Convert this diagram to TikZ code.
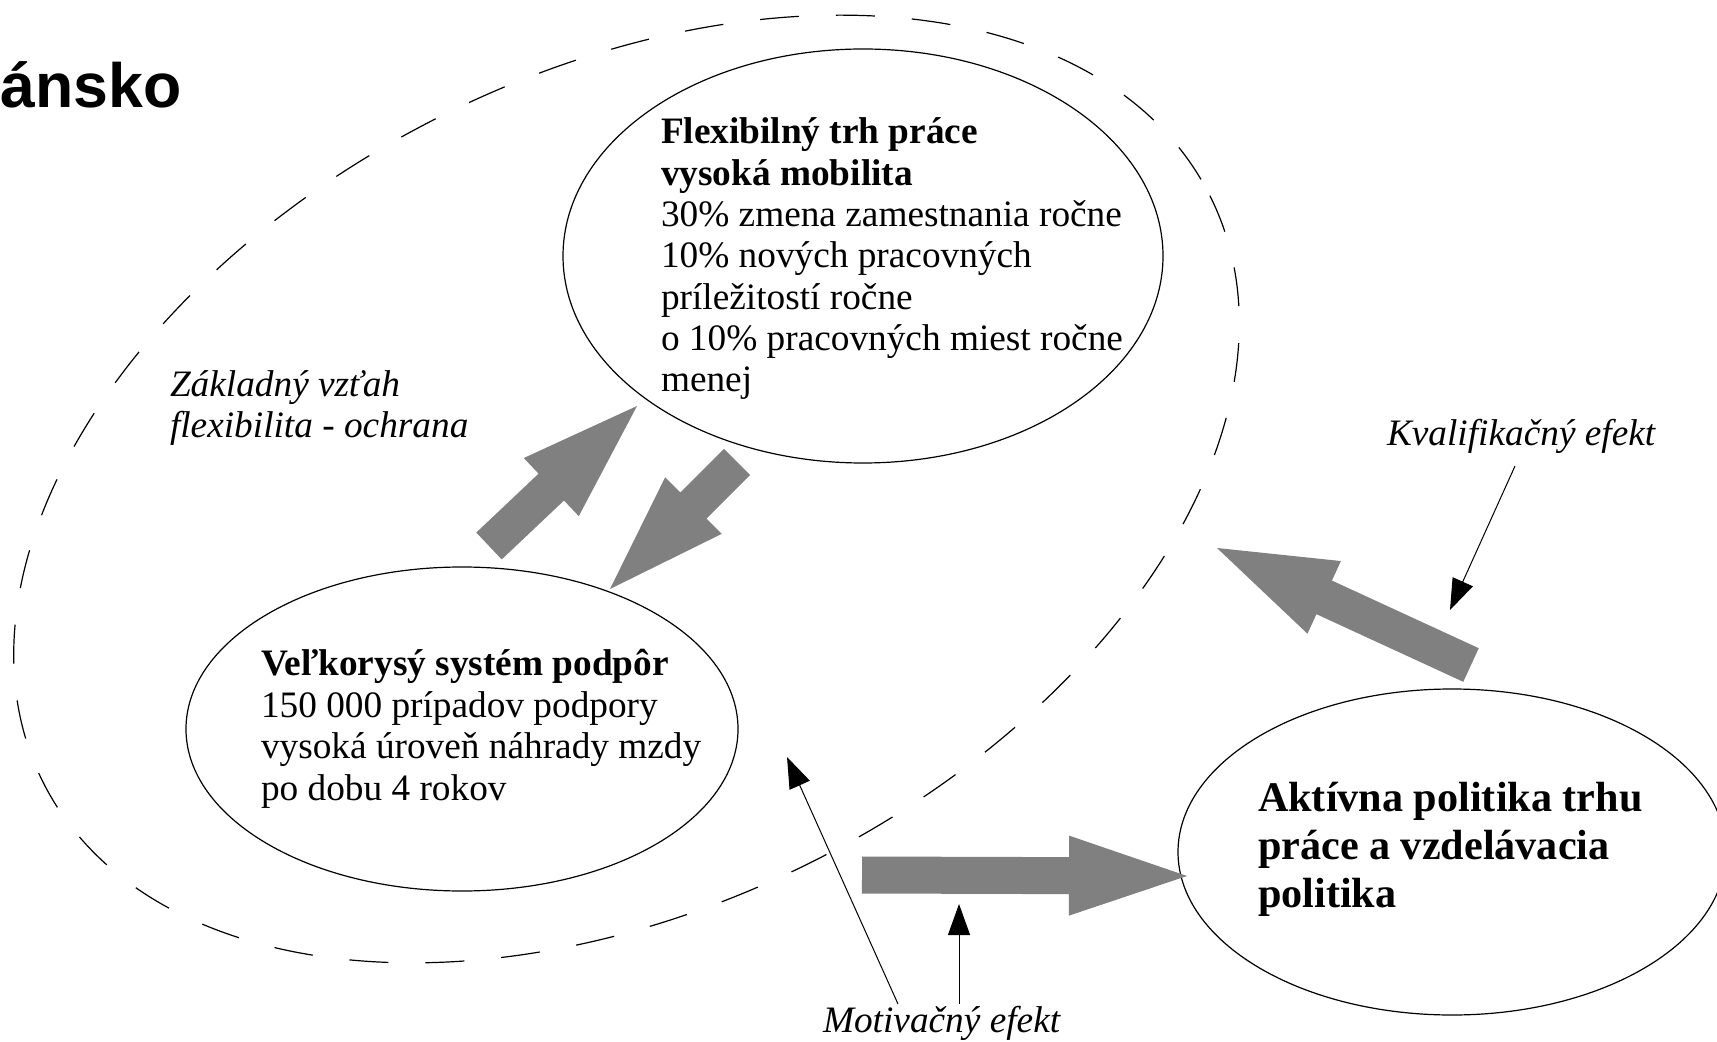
\documentclass[tikz,border=0pt]{standalone}
\usepackage{fontspec}
\setmainfont{Liberation Serif}
\newfontfamily\titlefont{Liberation Sans}
\usetikzlibrary{shapes.geometric,arrows.meta,calc}
\definecolor{arrowgray}{RGB}{128,128,128}
% block arrow: #1 tail coordinate, #2 tip coordinate
\newcommand{\blockarr}[2]{%
  \coordinate (bkN) at ($(#2)!59pt!(#1)$);
  \fill[arrowgray] ($(#1)!9.25pt!90:(#2)$) -- ($(bkN)!9.25pt!90:(#2)$) -- ($(bkN)!20pt!90:(#2)$) -- (#2)
    -- ($(bkN)!20pt!-90:(#2)$) -- ($(bkN)!9.25pt!-90:(#2)$) -- ($(#1)!9.25pt!-90:(#2)$) -- cycle;}
\begin{document}
\begin{tikzpicture}[x=0.5pt,y=-0.5pt,
  oval/.style={draw=black, line width=0.6pt, ellipse, inner sep=0pt, outer sep=0pt},
  txt/.style={inner sep=0pt, outer sep=0pt, align=left, anchor=north west},
  lbl/.style={inner sep=0pt, outer sep=0pt, anchor=base west, font=\fontsize{18.65pt}{20.5pt}\selectfont\itshape},
  thinarrow/.style={draw=black, line width=0.5pt, -{Triangle[length=15.5pt,width=11pt]}},
  outline/.style={line width=0.6pt, dash pattern=on 19.5pt off 18.5pt}
]
\fill[white] (0,0) rectangle (1717,1042);
\useasboundingbox (0,0) rectangle (1717,1042);

% title fragment
\node[inner sep=0pt, anchor=base west, font=\titlefont\bfseries\fontsize{31.3pt}{36pt}\selectfont] (title) at (0,108) {ánsko};

% big dashed ellipse
\draw[outline, rotate around={26.7:(626.5,489)}] (626.5,489) ellipse [x radius=653, y radius=416.5];

% ellipses
\node[oval, minimum width=300pt, minimum height=207pt] (flex) at (863,256) {};
\node[oval, minimum width=276pt, minimum height=162pt] (podp) at (462,729) {};
\node[oval, minimum width=274pt, minimum height=163pt] (akt) at (1452,852) {};

% texts
\node[txt, font=\fontsize{18.65pt}{20.65pt}\selectfont] (flextxt) at (661,116)
  {\rule{0pt}{0.75em}\textbf{Flexibilný trh práce}\\ \textbf{vysoká mobilita}\\ 30\% zmena zamestnania ročne\\ 10\% nových pracovných\\ príležitostí ročne\\ o 10\% pracovných miest ročne\\ menej};
\node[txt, font=\fontsize{18.65pt}{20.75pt}\selectfont] (podptxt) at (261,648)
  {\rule{0pt}{0.75em}\textbf{Veľkorysý systém podpôr}\\ 150 000 prípadov podpory\\ vysoká úroveň náhrady mzdy\\ po dobu 4 rokov};
\node[txt, font=\fontsize{21.1pt}{24.15pt}\selectfont\bfseries] (akttxt) at (1258,779.4)
  {\rule{0pt}{0.75em}Aktívna politika trhu\\ práce a vzdelávacia\\ politika};
\node[txt, font=\fontsize{18.65pt}{20.5pt}\selectfont\itshape] (zakl) at (170,369)
  {\rule{0pt}{0.75em}Základný vzťah\\ flexibilita - ochrana};
\node[lbl] (kval) at (1387,446) {Kvalifikačný efekt};
\node[lbl] (motiv) at (823,1032) {Motivačný efekt};

% block arrows
\coordinate (aT) at (489,546);  \coordinate (aP) at (637,406);
\coordinate (bT) at (737,462);  \coordinate (bP) at (610,589);
\coordinate (cT) at (1471,665); \coordinate (cP) at (1217,548);
\coordinate (dT) at (862,875);  \coordinate (dP) at (1187,876);
\blockarr{aT}{aP}
\blockarr{bT}{bP}
\blockarr{cT}{cP}
\blockarr{dT}{dP}

% thin arrows
\coordinate (kS) at (1515,466);  \coordinate (kP) at (1450,610);
\coordinate (m1S) at (898,1004); \coordinate (m1P) at (787,757);
\coordinate (m2S) at (959,1004); \coordinate (m2P) at (959,904);
\draw[thinarrow] (kS) -- (kP);
\draw[thinarrow] (m1S) -- (m1P);
\draw[thinarrow] (m2S) -- (m2P);
\end{tikzpicture}
\end{document}
